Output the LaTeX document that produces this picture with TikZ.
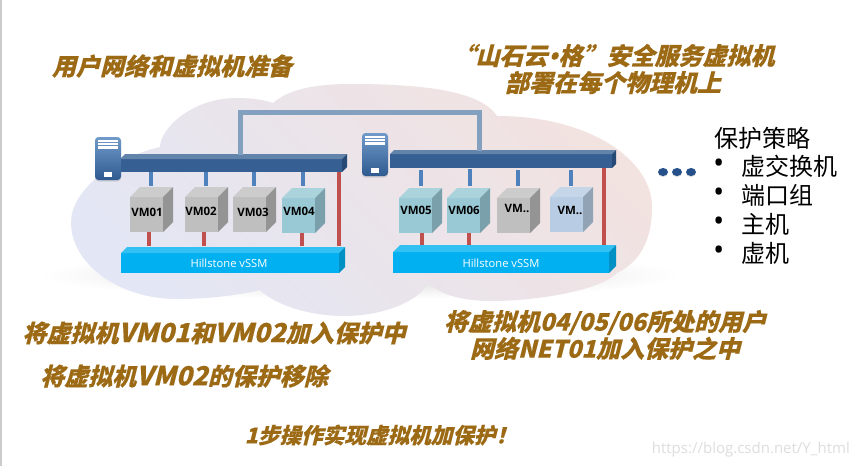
\documentclass[tikz,border=0pt]{standalone}
\usepackage{fontspec}
\usetikzlibrary{shadows,calc,shapes.geometric}
\newfontfamily\headf[BoldFeatures={FakeSlant=0.25,FakeBold=0.4}]{Noto Sans CJK SC}
\newfontfamily\headl[Scale=1.09,BoldFeatures={FakeSlant=0.25,FakeBold=0.4}]{Noto Sans CJK SC}
\newfontfamily\headm[BoldFeatures={FakeSlant=0.25,FakeBold=0.4}]{Open Sans}
\newfontfamily\plainf{Noto Sans CJK SC}
\newfontfamily\latf{Open Sans}
\newcommand{\wideword}[1]{{\headl\bfseries #1}}
\definecolor{brownhd}{HTML}{9C6A14}
\definecolor{barfront}{HTML}{365F93}
\definecolor{bartop}{HTML}{6384AA}
\definecolor{barside}{HTML}{264A75}
\definecolor{ssmfront}{HTML}{00B0F0}
\definecolor{ssmtop}{HTML}{33C0F3}
\definecolor{ssmside}{HTML}{0090C4}
\definecolor{linkblue}{HTML}{84A0BF}
\definecolor{vmblue}{HTML}{4F81BD}
\definecolor{vmred}{HTML}{C0504D}
\definecolor{dotblue}{HTML}{25508A}
\definecolor{SRVt}{HTML}{6F9AC9}
\definecolor{SRVb}{HTML}{2F5A90}
\definecolor{CLa}{HTML}{E3E6F4}
\definecolor{CLb}{HTML}{E3E7E0}
\definecolor{CLc}{HTML}{F2E2E0}
\definecolor{VMTf}{HTML}{98C9D5}
\definecolor{VMTt}{HTML}{ABD3DC}
\definecolor{VMTs}{HTML}{7AA1AB}
\definecolor{VMBf}{HTML}{B8CCE4}
\definecolor{VMBt}{HTML}{C6D6E9}
\definecolor{VMBs}{HTML}{93A3B6}
\tikzset{
  head/.style={font=\headf\bfseries\fontsize{24}{28}\selectfont,text=brownhd,inner sep=0pt,align=center},
  headsmall/.style={font=\headf\bfseries\fontsize{21.6}{26}\selectfont,text=brownhd,inner sep=0pt,align=center},
  plain/.style={font=\plainf\fontsize{24}{28}\selectfont,text=black,inner sep=0pt,anchor=west},
  bulletmark/.style={font=\latf\fontsize{30}{32}\selectfont,text=black,inner sep=0pt,anchor=west},
  vmlabel/.style={font=\latf\bfseries\fontsize{11.5}{14}\selectfont,text=black,inner sep=0pt},
  ssmlabel/.style={font=\latf\fontsize{11.2}{14}\selectfont,text=white,inner sep=0pt},
  upline/.style={vmblue,line width=4pt},
  downline/.style={vmred,line width=4pt},
  longline/.style={vmred,line width=4pt},
  linkline/.style={linkblue,line width=5pt},
  face/.style={inner sep=0pt,anchor=north west,outer sep=0pt},
  dotmark/.style={ellipse,fill=dotblue,minimum width=10pt,minimum height=8pt,inner sep=0pt,drop shadow={opacity=.25,shadow xshift=0pt,shadow yshift=-1pt}},
}
% name, x, y, w, h, depth, front, top, side
\newcommand{\solidbox}[9]{%
  \node[face,fill=#7,minimum width=#4pt,minimum height=#5pt] (#1) at (#2,#3) {};
  \fill[#8] (#1.north west) -- ++(#6,-#6) -- ++(#4,0) -- (#1.north east) -- cycle;
  \fill[#9] (#1.north east) -- ++(#6,-#6) -- ++(0,#5) -- (#1.south east) -- cycle;
}
% name, position
\newcommand{\serverbox}[2]{%
  \node[rounded corners=3.5pt,top color=SRVt,bottom color=SRVb,face,minimum width=26pt,minimum height=43pt,drop shadow={opacity=.25,shadow xshift=0pt,shadow yshift=-1.5pt}] (#1) at #2 {};
  \fill[white] ($(#1.north west)+(3,3)$) rectangle ++(20,2);
  \fill[white] ($(#1.north west)+(3,6)$) rectangle ++(20,2);
  \fill[white] ($(#1.north west)+(3,9)$) rectangle ++(20,3);
  \fill[white] ($(#1.north west)+(9,35)$) rectangle ++(8,5);
}
\begin{document}
\begin{tikzpicture}[x=1pt,y=-1pt]
\useasboundingbox (0,0) rectangle (854,466);
\fill[white] (0,0) rectangle (854,466);
\fill[black!20] (0,0) rectangle (2,466);
% soft shadow under the cloud
\shade[inner color=black!16,outer color=white] (360,275) ellipse [x radius=320,y radius=24];
% cloud
\shade[left color=CLa,middle color=CLb,right color=CLc,shading angle=135]
  (71,222) .. controls (71,195) and (105,160) .. (160,147)
  .. controls (160,130) and (190,98) .. (237,98)
  .. controls (252,98) and (265,100) .. (273,103)
  .. controls (290,88) and (320,84) .. (350,84)
  .. controls (420,84) and (480,90) .. (497,116)
  .. controls (590,116) and (652,160) .. (652,207)
  .. controls (652,240) and (640,262) .. (617,273)
  .. controls (600,290) and (540,301) .. (490,301)
  .. controls (465,301) and (440,295) .. (428,283)
  .. controls (420,300) and (385,316) .. (344,316)
  .. controls (310,316) and (275,305) .. (260,290)
  .. controls (235,296) and (205,299) .. (177,299)
  .. controls (120,299) and (71,265) .. (71,222) -- cycle;
% bars
\solidbox{bar1}{120}{159}{222}{13}{5}{barfront}{bartop}{barside}
\solidbox{bar2}{390}{154}{222}{14}{4}{barfront}{bartop}{barside}
% ssm
\solidbox{ssm1}{121}{253}{218}{20}{6}{ssmfront}{ssmtop}{ssmside}
\solidbox{ssm2}{393}{252}{216}{21}{7}{ssmfront}{ssmtop}{ssmside}
\node[ssmlabel] (ssm1t) at (229,263) {Hillstone vSSM};
\node[ssmlabel] (ssm2t) at (501,263) {Hillstone vSSM};
% servers
\serverbox{srv1}{(95,137)}
\serverbox{srv2}{(362,133)}
% link between the bars
\coordinate (la) at ($(bar1.north west)+(120,-4)$);
\coordinate (lb) at ($(bar2.north west)+(89,-3)$);
\coordinate (lt) at (240,112);
\draw[linkline,line join=miter] (la) -- (la |- lt) -- (lb |- lt) -- (lb);
% virtual machines
\solidbox{vm1}{130}{197}{33}{35}{10}{black!25}{black!20}{black!42}
\solidbox{vm2}{185}{197}{33}{35}{10}{black!25}{black!20}{black!42}
\solidbox{vm3}{233}{197}{33}{35}{10}{black!25}{black!20}{black!42}
\solidbox{vm4}{282}{198}{33}{35}{10}{VMTf}{VMTt}{VMTs}
\solidbox{vm5}{399}{198}{33}{35}{10}{VMTf}{VMTt}{VMTs}
\solidbox{vm6}{447}{198}{33}{35}{10}{VMTf}{VMTt}{VMTs}
\solidbox{vm7}{497}{198}{33}{35}{10}{black!25}{black!20}{black!42}
\solidbox{vm8}{550}{197}{33}{35}{10}{VMBf}{VMBt}{VMBs}
\node[vmlabel] (t1) at (147,212) {VM01};
\node[vmlabel] (t2) at (201,211) {VM02};
\node[vmlabel] (t3) at (253,212) {VM03};
\node[vmlabel] (t4) at (299,211) {VM04};
\node[vmlabel] (t5) at (416,210) {VM05};
\node[vmlabel] (t6) at (464,210) {VM06};
\node[vmlabel] (t7) at (517,208) {VM..};
\node[vmlabel] (t8) at (570,210) {VM..};
% blue connectors from the bars down to the machines
\coordinate (u1) at (151,186); \coordinate (u2) at (206,186); \coordinate (u3) at (254,186); \coordinate (u4) at (303,186);
\coordinate (u5) at (421,186); \coordinate (u6) at (470,186); \coordinate (u7) at (518,186); \coordinate (u8) at (571,186);
\draw[upline] (u1 |- bar1.south) -- (u1);
\draw[upline] (u2 |- bar1.south) -- (u2);
\draw[upline] (u3 |- bar1.south) -- (u3);
\draw[upline] (u4 |- bar1.south) -- (u4);
\draw[upline] ($(u5 |- bar2.south)+(0,2)$) -- (u5);
\draw[upline] ($(u6 |- bar2.south)+(0,1)$) -- (u6);
\draw[upline] ($(u7 |- bar2.south)+(0,2)$) -- (u7);
\draw[upline] ($(u8 |- bar2.south)+(0,2)$) -- (u8);
% red connectors from the machines down to the ssm
\coordinate (d1) at (149,232); \coordinate (d2) at (204,232); \coordinate (d4) at (302,233);
\coordinate (d5) at (422,233); \coordinate (d6) at (469,233);
\draw[downline] (d1) -- ($(d1 |- ssm1.north)+(0,-7)$);
\draw[downline] (d2) -- ($(d2 |- ssm1.north)+(0,-7)$);
\draw[downline] (d4) -- ($(d4 |- ssm1.north)+(0,-7)$);
\draw[downline] (d5) -- ($(d5 |- ssm2.north)+(0,-7)$);
\draw[downline] (d6) -- ($(d6 |- ssm2.north)+(0,-7)$);
\coordinate (r1) at (339,172); \coordinate (r2) at (604,168);
\draw[longline] (r1 |- bar1.south) -- ($(r1 |- ssm1.north)+(0,-7)$);
\draw[longline] (r2 |- bar2.south) -- ($(r2 |- ssm2.north)+(0,-7)$);
% three dots
\node[dotmark] (dot1) at (663,172) {};
\node[dotmark] (dot2) at (677,172) {};
\node[dotmark] (dot3) at (691,172) {};
% headings
\node[head] (h1) at (172,66) {用户网络和虚拟机准备};
\node[head] (h2) at (613,69) {“山石云\kern1pt{\headm\bfseries •}\kern1pt格”安全服务虚拟机\\[-1pt]\hspace*{0pt}部署在每个物理机上};
\node[head] (h3) at (214,333) {将虚拟机\wideword{VM01}和\wideword{VM02}加入保护中};
\node[head] (h4) at (184,376) {将虚拟机\wideword{VM02}的保护移除};
\node[head] (h5) at (605,335) {将虚拟机04/05/06所处的用户\\[-1pt]网络NET01加入保护之中};
\node[headsmall] (h6) at (381,435) {1步操作实现虚拟机加保护！};
% list
\node[plain] (p0) at (714,138) {保护策略};
\node[bulletmark] (b1) at (713,166) {•}; \node[plain] (p1) at (741,166) {虚交换机};
\node[bulletmark] (b2) at (713,195) {•}; \node[plain] (p2) at (741,195) {端口组};
\node[bulletmark] (b3) at (713,224) {•}; \node[plain] (p3) at (741,224) {主机};
\node[bulletmark] (b4) at (713,253) {•}; \node[plain] (p4) at (741,253) {虚机};
% watermark
\node[font=\latf\fontsize{15}{17}\selectfont,text=black!13,inner sep=0pt,anchor=east] (wm) at (850,450) {https://blog.csdn.net/Y\_html};
\end{tikzpicture}
\end{document}
